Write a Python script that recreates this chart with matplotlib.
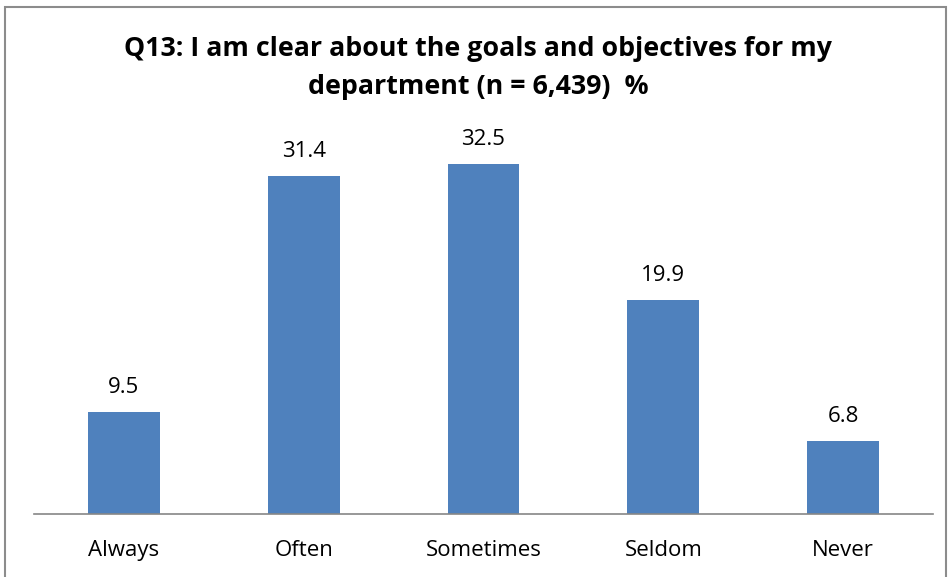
import matplotlib
matplotlib.use("Agg")
import matplotlib.pyplot as plt
from matplotlib.patches import Rectangle

categories = ["Always", "Often", "Sometimes", "Seldom", "Never"]
values = [9.5, 31.4, 32.5, 19.9, 6.8]
title = "Q13: I am clear about the goals and objectives for my\ndepartment (n = 6,439)  %"

W, H = 952, 577
fig = plt.figure(figsize=(W / 100, H / 100), dpi=100)
plt.rcParams["font.family"] = ["Open Sans", "DejaVu Sans"]

# chart-area border
fig.patches.append(Rectangle((5 / W, -0.05), 941 / W, 1 - 7 / H + 0.05,
                             transform=fig.transFigure, fill=False,
                             edgecolor="#8c8c8c", linewidth=1.5))

ax = fig.add_axes([34 / W, (H - 514) / H, 899 / W, (514 - 137) / H])
x = list(range(len(categories)))
bars = ax.bar(x, values, width=0.4, color="#4F81BD")
ax.set_xlim(-0.5, len(categories) - 0.5)
ax.set_ylim(0, 35)
ax.set_yticks([])
for s in ["top", "right", "left"]:
    ax.spines[s].set_visible(False)
ax.spines["bottom"].set_color("#868686")
ax.spines["bottom"].set_linewidth(1.2)
ax.set_xticks(x)
ax.set_xticklabels(categories, fontsize=16)
ax.tick_params(axis="x", length=0, pad=19)

for xi, v in zip(x, values):
    ax.annotate(f"{v}", (xi, v), xytext=(0, 10), textcoords="offset points",
                ha="center", va="bottom", fontsize=16)

fig.text(478 / W, 1 - 68 / H, title, ha="center", va="center",
         fontsize=19.3, fontweight="bold", linespacing=1.65)

fig.savefig("out.png", dpi=100)
